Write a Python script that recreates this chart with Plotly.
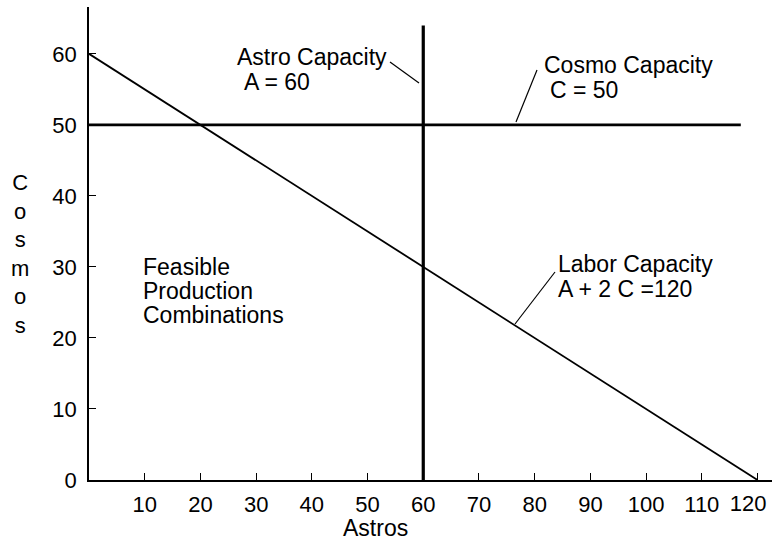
import plotly.graph_objects as go

# Data
labor_x = [0, 120]
labor_y = [60, 0]
cosmo_x = [0, 117]
cosmo_y = [50, 50]
astro_x = [60, 60]
astro_y = [0, 64]

x_ticks = [10, 20, 30, 40, 50, 60, 70, 80, 90, 100, 110, 120]
x_tick_text = ["10", "20", "30", "40", "50", "60", "70", "80", "90", "100", "110", ""]
x_end_tick = [120]
x_end_text = ["120"]
y_ticks = [0, 10, 20, 30, 40, 50, 60]

W, H = 772, 541
L, R, T, B = 89, 0, 7, 61
XMAX = 122.6
YMAX = 66.6
PW, PH = W - L - R, H - T - B

def px(x):
    return (x - L) / PW * XMAX

def py(y):
    return (H - B - y) / PH * YMAX

def ppx(x):
    return (x - L) / PW

def ppy(y):
    return (H - B - y) / PH

FONT = "Liberation Sans, Arial, sans-serif"
AF = 23

fig = go.Figure()
fig.add_trace(go.Scatter(x=labor_x, y=labor_y, mode="lines", xaxis="x2", yaxis="y",
                         line=dict(color="black", width=1.8), hoverinfo="skip"))
fig.add_trace(go.Scatter(x=cosmo_x, y=cosmo_y, mode="lines",
                         line=dict(color="black", width=2.6), hoverinfo="skip"))
fig.add_trace(go.Scatter(x=astro_x, y=astro_y, mode="lines",
                         line=dict(color="black", width=3.2), hoverinfo="skip"))

texts = [
    ("Astro Capacity", 235, 57),
    ("A = 60", 242, 82),
    ("Cosmo Capacity", 542, 65),
    ("C = 50", 548, 90),
    ("Labor Capacity", 556, 264),
    ("A + 2 C =120", 556, 289),
    ("Feasible", 141, 267),
    ("Production", 141, 291),
    ("Combinations", 141, 315),
]
ann = []
for t, x, y in texts:
    ann.append(dict(text=t, x=ppx(x), y=ppy(y), xref="paper", yref="paper",
                    xanchor="left", yanchor="middle", showarrow=False,
                    font=dict(size=AF, color="black", family=FONT)))
ann.append(dict(text="Astros", x=ppx(375), y=ppy(528), xref="paper", yref="paper",
                xanchor="center", yanchor="middle", showarrow=False,
                font=dict(size=AF, color="black", family=FONT)))
ann.append(dict(text="C<br>o<br>s<br>m<br>o<br>s", x=ppx(20), y=ppy(254),
                xref="paper", yref="paper", xanchor="center", yanchor="middle",
                showarrow=False, font=dict(size=22, color="black", family=FONT)))

shapes = []
for (x0, y0, x1, y1) in [(390, 62, 419, 83), (537, 70, 516, 122), (555, 272, 515, 324)]:
    shapes.append(dict(type="line", xref="x", yref="y",
                       x0=px(x0), y0=py(y0), x1=px(x1), y1=py(y1),
                       line=dict(color="black", width=1.2)))

fig.update_layout(
    width=W, height=H, autosize=False,
    margin=dict(l=L, r=R, t=T, b=B, autoexpand=False),
    paper_bgcolor="white", plot_bgcolor="white",
    showlegend=False,
    annotations=ann, shapes=shapes,
    font=dict(family=FONT, color="black"),
    xaxis=dict(range=[0, XMAX], tickvals=x_ticks, ticktext=x_tick_text,
               ticks="inside", ticklen=7, automargin=False,
               tickwidth=1, tickcolor="black", showline=True, linecolor="black",
               linewidth=1.5, showgrid=False, zeroline=False,
               tickfont=dict(size=22, color="black", family=FONT),
               ticklabelstandoff=4),
    xaxis2=dict(range=[0, XMAX], overlaying="x", side="bottom", anchor="y",
                tickvals=x_end_tick, ticktext=x_end_text, ticks="",
                ticklabelposition="outside left", ticklabelshift=9,
                automargin=False, showline=False, showgrid=False, zeroline=False,
                tickfont=dict(size=22, color="black", family=FONT),
                ticklabelstandoff=8),
    yaxis=dict(range=[0, YMAX], tickvals=y_ticks, ticks="inside", ticklen=7,
               automargin=False,
               tickwidth=1, tickcolor="black", showline=True, linecolor="black",
               linewidth=1.5, showgrid=False, zeroline=False,
               tickfont=dict(size=22, color="black", family=FONT),
               ticklabelstandoff=6),
)

fig.write_html("out.html", config={"displayModeBar": False},
               post_script="document.body.style.margin='0';document.body.style.overflow='hidden';")
